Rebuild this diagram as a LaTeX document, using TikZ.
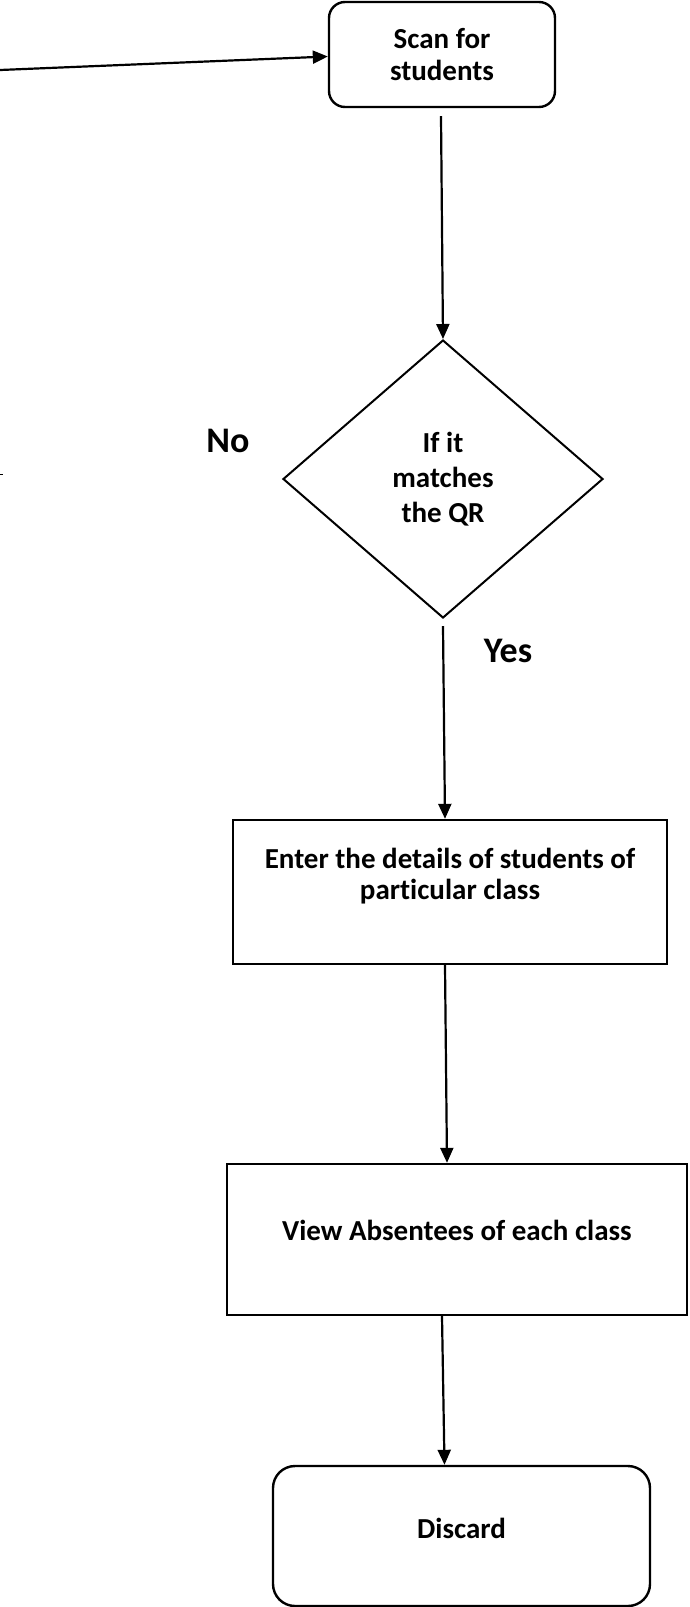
\documentclass[tikz,border=0pt]{standalone}
\usepackage{fontspec}
\setmainfont{Carlito}[Ligatures=NoCommon]
\usetikzlibrary{shapes.geometric,arrows.meta}

\begin{document}
\begin{tikzpicture}[
            x=1pt, y=-1pt,
            every node/.style={font=\bfseries\fontsize{29}{31}\selectfont, align=center, inner sep=0pt},
            roundbox/.style={draw, line width=2.4pt, rounded corners=16pt},
            plainbox/.style={draw, line width=2.4pt},
            decision/.style={diamond, draw, line width=2pt},
            answer/.style={font=\bfseries\fontsize{36}{40}\selectfont},
            flow/.style={line width=2.2pt, -{Triangle[length=15pt,width=13pt]}}
        ]
            \useasboundingbox (0,0) rectangle (689,1607);

            \node[roundbox, minimum width=226pt, minimum height=105pt,
                  font=\bfseries\fontsize{29}{32}\selectfont] (scan) at (442,54.5) {Scan for\\students};
            \node[decision, minimum width=320pt, minimum height=278pt,
                  font=\bfseries\fontsize{29}{35}\selectfont] (match) at (443,479) {If it\\matches\\the QR};
            \node[plainbox, minimum width=434pt, minimum height=144pt] (enter) at (450,892) {};
            \node[plainbox, minimum width=460pt, minimum height=151pt] (view) at (457,1239.5) {};
            \node[roundbox, rounded corners=22pt, minimum width=377pt, minimum height=140pt] (discard) at (461.5,1536) {};

            \node (entertxt) at (450,876) {Enter the details of students of\\particular class};
            \node (viewtxt) at (457,1230) {View Absentees of each class};
            \node (discardtxt) at (461.5,1528) {Discard};

            \node[answer] (no) at (228,441) {No};
            \node[answer] (yes) at (508,651) {Yes};

            \coordinate (start) at (0,70);
            \coordinate (stub) at (0,474);

            \draw[flow] (start) -- ([yshift=-2pt]scan.west);
            \draw[flow] ([xshift=-1pt,yshift=-8pt]scan.south) -- (match.north);
            \draw[flow] ([yshift=-7pt]match.south) -- ([xshift=-5pt]enter.north);
            \draw[flow] ([xshift=-5pt]enter.south) -- ([xshift=-10pt]view.north);
            \draw[flow] ([xshift=-15pt]view.south) -- ([xshift=-17pt]discard.north);
            \draw[line width=1pt] (stub) -- ++(3,0);

        \end{tikzpicture}
\end{document}
